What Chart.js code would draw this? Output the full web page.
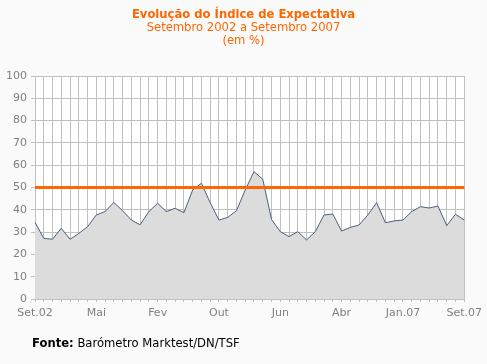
<!DOCTYPE html>
<html>
<head>
<meta charset="utf-8">
<script src="https://cdn.jsdelivr.net/npm/chart.js@4/dist/chart.umd.min.js"></script>
<style>
	html, body { margin: 0; padding: 0; background: #fafafa; }
	#wrap { position: relative; width: 487px; height: 364px; overflow: hidden; }
	#chart { position: absolute; left: 0; top: 0; }
	.t { position: absolute; left: 0; width: 487px; text-align: center; color: #ff6600;
		font-family: "DejaVu Sans", Verdana, sans-serif; font-size: 11.6px; line-height: 13px; }
	#title { top: 8px; font-weight: bold; }
	#sub1 { top: 21px; }
	#sub2 { top: 34px; }
	#fonte { position: absolute; left: 32px; top: 337px; color: #000;
		font-family: "DejaVu Sans", Verdana, sans-serif; font-size: 11.6px; line-height: 13px; }
</style>
</head>
<body>
<div id="wrap">
	<canvas id="chart" width="487" height="364"></canvas>
	<div class="t" id="title">Evolução do Índice de Expectativa</div>
	<div class="t" id="sub1">Setembro 2002 a Setembro 2007</div>
	<div class="t" id="sub2">(em %)</div>
	<div id="fonte"><b>Fonte:</b> Barómetro Marktest/DN/TSF</div>
</div>
<script>
	'use strict';

	// label every 7th point, rest blank
	var tickLabels = ['Set.02', 'Mai', 'Fev', 'Out', 'Jun', 'Abr', 'Jan.07', 'Set.07'];

	var indexValues = [
		34.4, 27.2, 26.8, 31.7, 26.8, 29.4, 32.4, 37.7, 39.2, 43.3,
		39.6, 35.4, 33.3, 39.2, 42.9, 39.2, 40.7, 38.7, 48.9, 51.9,
		43.2, 35.4, 36.6, 39.6, 48.9, 57.1, 53.7, 35.7, 30.2, 28.0,
		30.2, 26.5, 30.2, 37.7, 38.1, 30.5, 32.1, 33.2, 37.7, 43.2,
		34.2, 35.0, 35.4, 39.2, 41.4, 40.8, 41.7, 32.9, 38.0, 35.4
	];

	var referenceLevel = 50;

	var categories = [];
	for (var i = 0; i < indexValues.length; i++) {
		categories.push(i % 7 === 0 ? tickLabels[i / 7] : '');
	}
	var refValues = categories.map(function () { return referenceLevel; });

	var plotBg = {
		id: 'plotBg',
		beforeDraw: function (chart) {
			var a = chart.chartArea;
			var ctx = chart.ctx;
			ctx.save();
			ctx.fillStyle = '#ffffff';
			ctx.fillRect(a.left, a.top, a.right - a.left, a.bottom - a.top);
			ctx.restore();
		}
	};

	var gridColor = '#c0c0c0';
	var tickFont = { family: '"DejaVu Sans", Verdana, sans-serif', size: 11 };

	new Chart(document.getElementById('chart'), {
		type: 'line',
		data: {
			labels: categories,
			datasets: [{
				label: 'Índice de Expectativa',
				data: indexValues,
				borderColor: '#4a5f80',
				borderWidth: 1,
				backgroundColor: '#dcdcdc',
				fill: 'origin',
				pointRadius: 0,
				tension: 0,
				order: 2
			}, {
				label: 'Referência',
				data: refValues,
				borderColor: '#ff6600',
				borderWidth: 3,
				fill: false,
				pointRadius: 0,
				order: 1
			}]
		},
		options: {
			responsive: false,
			animation: false,
			layout: { padding: { top: 76, right: 22, left: 0, bottom: 0 } },
			plugins: {
				legend: { display: false },
				tooltip: { enabled: false }
			},
			scales: {
				x: {
					offset: false,
					grid: { color: gridColor, tickLength: 3, tickColor: gridColor },
					border: { color: gridColor },
					ticks: {
						autoSkip: false,
						maxRotation: 0,
						color: '#808080',
						font: tickFont,
						padding: 5
					},
					afterFit: function (scale) { scale.height = 65; }
				},
				y: {
					min: 0,
					max: 100,
					grid: { color: gridColor, tickLength: 4, tickColor: gridColor },
					border: { color: gridColor },
					ticks: {
						stepSize: 10,
						color: '#808080',
						font: tickFont,
						padding: 4
					},
					afterFit: function (scale) { scale.width = 35; }
				}
			}
		},
		plugins: [plotBg]
	});
</script>
</body>
</html>
